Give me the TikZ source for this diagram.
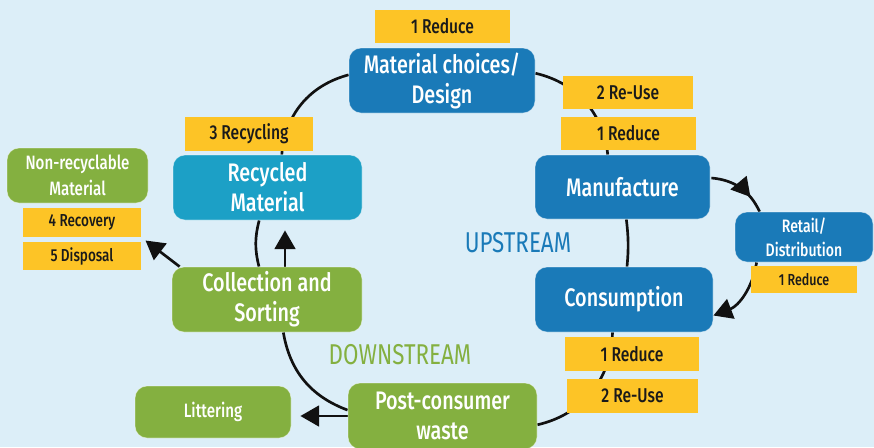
\documentclass[tikz,border=0pt]{standalone}
\usepackage{fontspec}
\setmainfont{Fira Sans Medium}[FakeStretch=0.78]
\newfontfamily\streamfont{Fira Sans}[FakeStretch=0.78]
\usetikzlibrary{arrows.meta,calc,decorations.markings}

\definecolor{skybg}{HTML}{DCEEF8}
\definecolor{procblue}{HTML}{1A7AB8}
\definecolor{recteal}{HTML}{1CA0C6}
\definecolor{wastegreen}{HTML}{84B040}
\definecolor{tagyellow}{HTML}{FDC426}
\definecolor{tagtext}{HTML}{1A1A1A}
\definecolor{wire}{HTML}{111111}

\pgfdeclarelayer{bg}
\pgfdeclarelayer{wires}
\pgfsetlayers{bg,wires,main}

\begin{document}
\begin{tikzpicture}[x=0.75pt,y=0.75pt,
  sz/.style 2 args={minimum width=#1*0.75pt, minimum height=#2*0.75pt},
  box/.style={rounded corners=9pt, draw=white, draw opacity=0.45, line width=0.6pt,
    text=white, align=center, inner sep=0pt, font=\fontsize{19}{22.5}\selectfont},
  bluebox/.style={box, fill=procblue},
  tealbox/.style={box, fill=recteal},
  greenbox/.style={box, fill=wastegreen},
  tag/.style={fill=tagyellow, text=tagtext, inner sep=0pt, align=center,
    font=\fontsize{15}{18}\selectfont},
  smalltag/.style={tag, font=\fontsize{13}{15}\selectfont},
  streamlbl/.style={font=\streamfont\fontsize{21.5}{24}\selectfont, inner sep=0pt},
  cyc/.style={line width=2pt, draw=wire},
  arr/.style={cyc, -{Triangle[length=14pt, width=15.5pt]}},
  midarr/.style={cyc, decoration={markings,
      mark=at position #1 with {\arrow[wire]{Triangle[length=14pt, width=15.5pt]}}},
    postaction={decorate}},
]
\useasboundingbox (0,0) rectangle (874,-447);
\begin{pgfonlayer}{bg}
  \fill[skybg] (0,0) rectangle (874,-447);
\end{pgfonlayer}

% upstream part of the cycle
\node[bluebox, sz={186}{65}] (mat) at (442,-80.5) {Material choices/\\Design};
\node[bluebox, sz={175}{64}] (man) at (622.5,-187) {Manufacture};
\node[bluebox, sz={138}{50}, font=\fontsize{13.5}{18}\selectfont] (ret) at (804,-237) {Retail/\\Distribution};
\node[bluebox, sz={178}{65}] (con) at (624,-299.5) {Consumption};

% downstream part of the cycle
\node[greenbox, sz={189}{66}] (post) at (442.5,-416) {Post-consumer\\waste};
\node[greenbox, sz={190}{65}] (col) at (267,-299.5) {Collection and\\Sorting};
\node[tealbox, sz={189}{65}] (rec) at (267.5,-187.5) {Recycled\\Material};

% side outlets
\node[greenbox, sz={141}{55}, font=\fontsize{14.5}{19.5}\selectfont] (non) at (77.5,-175.5) {Non-recyclable\\Material};
\node[greenbox, sz={156}{52}, font=\fontsize{14.5}{17}\selectfont] (lit) at (213,-412) {Littering};

% waste hierarchy tags
\node[tag, sz={135}{33}] (matred) at (442.5,-26.5) {1 Reduce};
\node[tag, sz={130}{33}] (manreu) at (628,-92.5) {2 Re-Use};
\node[tag, sz={135}{33}] (manred) at (628.5,-133.5) {1 Reduce};
\node[tag, sz={106}{27}, font=\fontsize{12}{14}\selectfont] (retred) at (804,-279.5) {1 Reduce};
\node[tag, sz={134}{34}] (conred) at (632,-354) {1 Reduce};
\node[tag, sz={131}{34}] (conreu) at (632.5,-396) {2 Re-Use};
\node[tag, sz={128}{34}] (recy) at (249,-134) {3 Recycling};
\node[smalltag, sz={118}{29}] (rcv) at (82,-222.5) {4 Recovery};
\node[smalltag, sz={118}{28}] (dsp) at (82,-256) {5 Disposal};

% stream labels
\node[streamlbl, text=procblue] (up) at (518,-243) {UPSTREAM};
\node[streamlbl, text=wastegreen] (down) at (400,-355) {DOWNSTREAM};

\begin{pgfonlayer}{wires}
  % the life cycle loop
  \draw[cyc] (mat) to[bend left=35] (man);
  \draw[cyc] (man) to[bend left=6] (con);
  \draw[cyc] (con) to[bend left=38] (post);
  \draw[cyc] (post) to[bend left=30] (col);
  \draw[cyc] (col) to[bend left=14] (rec);
  \draw[cyc] (rec) to[bend left=35] (mat);
  % detour through retail
  \draw[midarr=0.72] ($(man.east)+(1,9)$) to[bend left=30] ($(ret.north west)+(25,0)$);
  \draw[arr] ($(ret.south west)+(22,0)$) to[bend left=30] ($(con.east)+(0,-16)$);
  % outlets
  \draw[arr] (col.north -| 285,0) -- ($(rec.south -| 285,0)+(0,-10)$);
  \draw[arr, shorten >=4pt] ($(col.north west)+(8,0)$) -- (rcv.south east);
  \draw[arr, shorten >=6.75pt] (post.west) -- (post.west -| lit.east);
\end{pgfonlayer}
\end{tikzpicture}
\end{document}
